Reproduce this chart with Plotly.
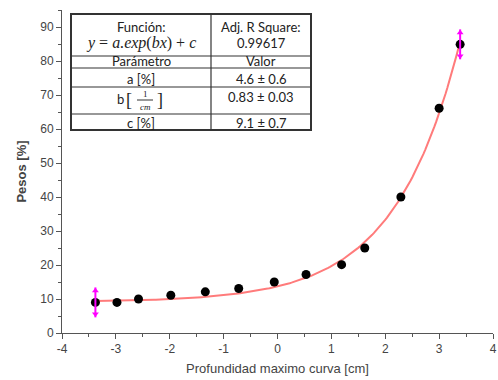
import numpy as np
import plotly.graph_objects as go

# ---- data ----
x_cm = [-3.38, -2.98, -2.58, -1.98, -1.34, -0.72, -0.06, 0.53, 1.19, 1.62, 2.29, 3.00, 3.39]
pesos = [9.0, 9.0, 10.0, 11.1, 12.1, 13.1, 15.0, 17.2, 20.1, 25.0, 40.0, 66.1, 84.9]
err_x = [-3.38, 3.39]
err_y = [9.0, 84.9]
err_val = [4.4, 4.4]

fit_a, fit_b, fit_c = 4.6, 0.83, 9.1

x_ticks = [-4, -3, -2, -1, 0, 1, 2, 3, 4]
x_tick_labels = ["-4", "-3", "-2", "-1", "0", "1", "2", "3", "4"]
y_ticks = [0, 10, 20, 30, 40, 50, 60, 70, 80, 90]

table_header = ["Función:", "Adj. R Square:"]
table_row1 = ["<i>y</i> = <i>a.exp</i>(<i>bx</i>) + <i>c</i>", "0.99617"]
table_row2 = ["Parámetro", "Valor"]
param_names = ["a [%]", "b", "c [%]"]
param_values = ["4.6 ± 0.6", "0.83 ± 0.03", "9.1 ± 0.7"]

# ---- layout geometry (pixels) ----
W, H = 498, 380
ML, MR, MT, MB = 62, 5, 10, 47
PW, PH = W - ML - MR, H - MT - MB


def px(xp):
    return (xp - ML) / PW


def py(yp):
    return (H - MB - yp) / PH


fx = np.linspace(min(x_cm), max(x_cm), 200)
fy = fit_a * np.exp(fit_b * fx) + fit_c

fig = go.Figure()
fig.add_trace(go.Scatter(x=fx, y=fy, mode="lines",
                         line=dict(color="#ff7b7b", width=2), hoverinfo="skip"))
fig.add_trace(go.Scatter(x=x_cm, y=pesos, mode="markers",
                         marker=dict(color="black", size=9)))
fig.add_trace(go.Scatter(x=err_x, y=err_y, mode="markers",
                         marker=dict(color="rgba(0,0,0,0)", size=1),
                         error_y=dict(type="data", array=err_val, color="#ff00ff",
                                      thickness=2, width=0)))
fig.add_trace(go.Scatter(x=err_x, y=[v + e - 1.0 for v, e in zip(err_y, err_val)],
                         mode="markers",
                         marker=dict(symbol="triangle-up", color="#ff00ff", size=6)))
fig.add_trace(go.Scatter(x=err_x, y=[v - e + 1.0 for v, e in zip(err_y, err_val)],
                         mode="markers",
                         marker=dict(symbol="triangle-down", color="#ff00ff", size=6)))

axis_common = dict(showgrid=False, zeroline=False, showline=True, linecolor="#555",
                   linewidth=1, ticks="outside", ticklen=5, tickwidth=1, tickcolor="#555",
                   automargin=False,
                   tickfont=dict(family="Liberation Sans, Arial", size=12, color="#444"))

fig.update_xaxes(range=[-4, 4], tickvals=x_ticks, ticktext=x_tick_labels,
                 minor=dict(dtick=0.5, ticks="outside", ticklen=3, tickcolor="#555"),
                 title=dict(text="Profundidad maximo curva [cm]",
                            font=dict(family="Liberation Sans, Arial", size=13, color="#444"),
                            standoff=8),
                 **axis_common)
fig.update_yaxes(range=[0, 95], tickvals=y_ticks,
                 minor=dict(dtick=5, ticks="outside", ticklen=3, tickcolor="#555"),
                 title=dict(text="<b>Pesos [%]</b>",
                            font=dict(family="Liberation Sans, Arial", size=13, color="#444"),
                            standoff=10),
                 **axis_common)

shapes = []
# table background and lines
L, M, R = 71, 211, 311
rows = [14, 56, 68, 87, 114, 130]
shapes.append(dict(type="rect", xref="paper", yref="paper", x0=px(L), x1=px(R),
                   y0=py(rows[-1]), y1=py(rows[0]), fillcolor="white",
                   line=dict(color="#333", width=2), layer="above"))
for r in rows[1:-1]:
    shapes.append(dict(type="line", xref="paper", yref="paper", x0=px(L), x1=px(R),
                       y0=py(r), y1=py(r), line=dict(color="#333", width=1.2)))
shapes.append(dict(type="line", xref="paper", yref="paper", x0=px(M), x1=px(M),
                   y0=py(rows[-1]), y1=py(rows[0]), line=dict(color="#333", width=1.2)))
# fraction bar for 1/cm
shapes.append(dict(type="line", xref="paper", yref="paper", x0=px(137), x1=px(153),
                   y0=py(100), y1=py(100), line=dict(color="#333", width=1)))

tfont = dict(family="Lato, Liberation Sans", size=13, color="#222")
ann = []


def add_text(txt, xp, yp, font=None):
    ann.append(dict(text=txt, xref="paper", yref="paper", x=px(xp), y=py(yp),
                    showarrow=False, xanchor="center", yanchor="middle",
                    font=font or tfont))


cl, cr = (L + M) / 2, (M + R) / 2
add_text(table_header[0], cl, 27)
add_text(table_header[1], cr, 27)
add_text(table_row1[0], cl, 43, dict(family="Liberation Serif", size=16, color="#222"))
add_text(table_row1[1], cr, 43)
add_text(table_row2[0], cl, 61.5)
add_text(table_row2[1], cr, 61.5)
add_text(param_names[0], cl, 79)
add_text(param_values[0], cr, 79)
add_text(param_names[1], 120, 99)
add_text("[", 129, 100, dict(family="Liberation Serif", size=18, color="#222"))
add_text("]", 160, 100, dict(family="Liberation Serif", size=18, color="#222"))
add_text("1", 145, 93.5, dict(family="Liberation Serif", size=9, color="#222"))
add_text("<i>cm</i>", 145, 106.5, dict(family="Liberation Serif", size=9, color="#222"))
add_text(param_values[1], cr, 97)
add_text(param_names[2], cl, 122.5)
add_text(param_values[2], cr, 122.5)

fig.update_layout(width=W, height=H, margin=dict(l=ML, r=MR, t=MT, b=MB),
                  plot_bgcolor="white", paper_bgcolor="white", showlegend=False,
                  shapes=shapes, annotations=ann)

fig.write_html("out.html", config={"displayModeBar": False},
               post_script="document.body.style.margin='0px';document.body.style.overflow='hidden';")
